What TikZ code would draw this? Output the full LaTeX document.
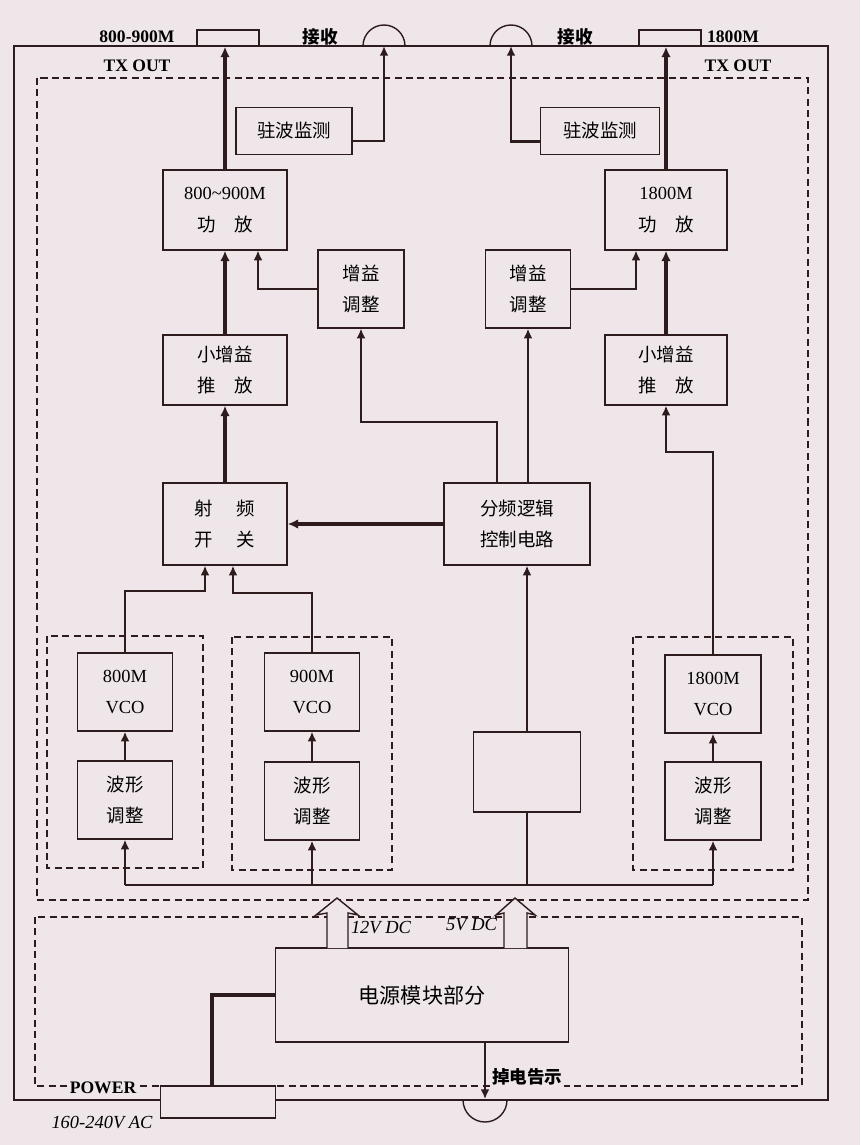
\documentclass[tikz,border=0pt]{standalone}
\usepackage{fontspec}
\setmainfont{Liberation Serif}
\newfontfamily\cjk{Noto Sans CJK SC}
\usetikzlibrary{arrows.meta,calc}
\definecolor{paper}{RGB}{239,230,233}
\definecolor{ink}{HTML}{2E1B1D}
\def\zh#1{{\cjk #1}}
\tikzset{
  blk/.style={draw=ink,line width=0.7pt,align=center,inner sep=0pt},
  sz/.style 2 args={minimum width=#1*0.2mm,minimum height=#2*0.2mm},
  grp/.style={draw=ink,line width=1.1pt,dash pattern=on 4pt off 2.5pt},
  sig/.style={draw=ink,line width=2pt,-{Latex[length=6pt,width=5.5pt]}},
  wire/.style={draw=ink,line width=0.9pt,-{Latex[length=5.5pt,width=5pt]}},
  lbl/.style={inner sep=1pt,font=\fontsize{10}{12}\selectfont\bfseries},
}

\begin{document}
\begin{tikzpicture}[x=0.2mm,y=-0.2mm,font=\fontsize{10.5}{18}\selectfont]
  \useasboundingbox[fill=paper] (0,0) rectangle (860,1145);
  % case and dashed groups
  \draw[ink,line width=0.8pt] (14,46) rectangle (828,1100);
  \draw[grp] (37,78) rectangle (808,900);
  \draw[grp] (47,636) rectangle (203,868);
  \draw[grp] (232,637) rectangle (392,870);
  \draw[grp] (633,637) rectangle (793,870);
  \draw[grp,line width=0.9pt] (35,917) rectangle (802,1086);

  % ports on the case
  \node[blk,sz={62}{16},line width=0.8pt] (txL) at (228,38) {};
  \node[blk,sz={62}{16},line width=0.8pt] (txR) at (670,38) {};
  \coordinate (rxL) at (384,46);
  \coordinate (rxR) at (511,46);
  \draw[ink,line width=0.8pt] ($(rxL)+(21,0)$) arc[start angle=0,end angle=180,radius=4.2mm];
  \draw[ink,line width=0.8pt] ($(rxR)+(21,0)$) arc[start angle=0,end angle=180,radius=4.2mm];
  \node[lbl] (nTxL) at (137,37) {800-900M};
  \node[lbl] (nRxL) at (320,37) {\zh{接收}};
  \node[lbl] (nRxR) at (575,37) {\zh{接收}};
  \node[lbl] (nTxR) at (733,37) {1800M};
  \node[lbl] (oTxL) at (137,66) {TX OUT};
  \node[lbl] (oTxR) at (738,66) {TX OUT};

  % blocks
  \node[blk,sz={116}{47}] (swrL) at (294,131) {\zh{驻波监测}};
  \node[blk,sz={119}{47}] (swrR) at (600,131) {\zh{驻波监测}};
  \node[blk,sz={124}{80}] (paL) at (225,210) {800\textasciitilde 900M\\\zh{功\quad 放}};
  \node[blk,sz={122}{80}] (paR) at (666,210) {1800M\\\zh{功\quad 放}};
  \node[blk,sz={86}{78}] (gainL) at (361,289) {\zh{增益}\\\zh{调整}};
  \node[blk,sz={85}{78}] (gainR) at (528,289) {\zh{增益}\\\zh{调整}};
  \node[blk,sz={124}{70}] (ampL) at (225,370) {\zh{小增益}\\\zh{推\quad 放}};
  \node[blk,sz={122}{70}] (ampR) at (666,370) {\zh{小增益}\\\zh{推\quad 放}};
  \node[blk,sz={124}{82}] (rfsw) at (225,524) {\zh{射\hspace{1.3em}频}\\\zh{开\hspace{1.3em}关}};
  \node[blk,sz={146}{82}] (logic) at (517,524) {\zh{分频逻辑}\\\zh{控制电路}};
  \node[blk,sz={95}{78}] (vcoA) at (125,692) {800M\\VCO};
  \node[blk,sz={95}{78}] (shpA) at (125,800) {\zh{波形}\\\zh{调整}};
  \node[blk,sz={95}{78}] (vcoB) at (312,692) {900M\\VCO};
  \node[blk,sz={95}{78}] (shpB) at (312,801) {\zh{波形}\\\zh{调整}};
  \node[blk,sz={107}{80}] (blank) at (527,772) {};
  \node[blk,sz={96}{78}] (vcoC) at (713,694) {1800M\\VCO};
  \node[blk,sz={96}{78}] (shpC) at (713,801) {\zh{波形}\\\zh{调整}};
  \node[blk,sz={293}{94},font=\fontsize{12}{14}\selectfont] (psu) at (422,995) {\zh{电源模块部分}};
  \node[blk,sz={115}{32},fill=paper,line width=0.8pt] (power) at (218,1102) {};

  % transmit chain
  \draw[sig] (paL.north) -- (paL.north|-txL.south);
  \draw[sig] (paR.north) -- (paR.north|-txR.south);
  \draw[wire,line width=1.3pt] (swrL.-10) -| (rxL);
  \draw[wire,line width=1.3pt] (swrR.190) -| (rxR);
  \draw[sig] (ampL) -- (paL);
  \draw[sig] (ampR) -- (paR);
  \draw[wire] (gainL.west) -| ($(paL.south)+(33,0)$);
  \draw[wire] (gainR.east) -| ($(paR.south)+(-30,0)$);
  \coordinate (bendL) at (497,422);
  \draw[wire] ($(logic.north)+(-20,0)$) -- (bendL) -| (gainL.south);
  \draw[wire,line width=1.3pt] (gainR.south|-logic.north) -- (gainR.south);
  \draw[sig] (rfsw) -- (ampL);
  \draw[sig] (logic) -- (rfsw);
  \coordinate (bendR) at (713,452);
  \draw[wire,line width=1.2pt] (vcoC.north) -- (bendR) -| (ampR.south);
  \draw[wire,line width=1.2pt] (vcoA.north) |- ($(rfsw.south)+(-20,25)$) -- ($(rfsw.south)+(-20,0)$);
  \draw[wire,line width=1.2pt] (vcoB.north) |- ($(rfsw.south)+(8,27)$) -- ($(rfsw.south)+(8,0)$);
  \draw[wire,line width=1.6pt] (shpA) -- (vcoA);
  \draw[wire,line width=1.6pt] (shpB) -- (vcoB);
  \draw[wire,line width=1.6pt] (shpC) -- (vcoC);

  % supply bus
  \coordinate (bus) at (0,885);
  \draw[ink,line width=1.3pt] (shpA.south|-bus) -- (shpC.south|-bus);
  \foreach \b in {shpA,shpB,shpC}
    \draw[wire,line width=1.3pt] (\b.south|-bus) -- (\b.south);
  \draw[ink,line width=1.1pt] (blank) -- (blank|-bus);
  \draw[wire,line width=1.2pt] (blank.north) -- (blank.north|-logic.south);

  % power module
  \draw[ink,fill=paper,line width=0.8pt] (327,948) -- (327,913) -- (316,915) -- (337,898)
    -- (358,915) -- (348,913) -- (348,948);
  \draw[ink,fill=paper,line width=0.8pt] (504,948) -- (504,913) -- (496,915) -- (515,898)
    -- (535,915) -- (527,913) -- (527,948);
  \node[inner sep=1pt] (v12) at (381,928) {\itshape 12V DC};
  \node[inner sep=1pt,anchor=east] (v5) at (499,925) {\itshape 5V DC};
  \draw[ink,line width=2.2pt] (psu.west) -| ($(power.north)+(-6,0)$);
  \coordinate (alarm) at (485,1099);
  \draw[wire] ($(psu.south)+(63,0)$) -- (alarm);
  \draw[ink,line width=0.8pt] ($(alarm)+(-22,1)$) arc[start angle=180,end angle=360,radius=4.4mm];
  \node[lbl,fill=paper,anchor=west] (nAlarm) at (490,1077) {\zh{掉电告示}};
  \node[lbl,fill=paper] (nPower) at (103,1088) {POWER};
  \node[inner sep=1pt] (nAc) at (102,1122) {\itshape 160-240V AC};
\end{tikzpicture}
\end{document}
